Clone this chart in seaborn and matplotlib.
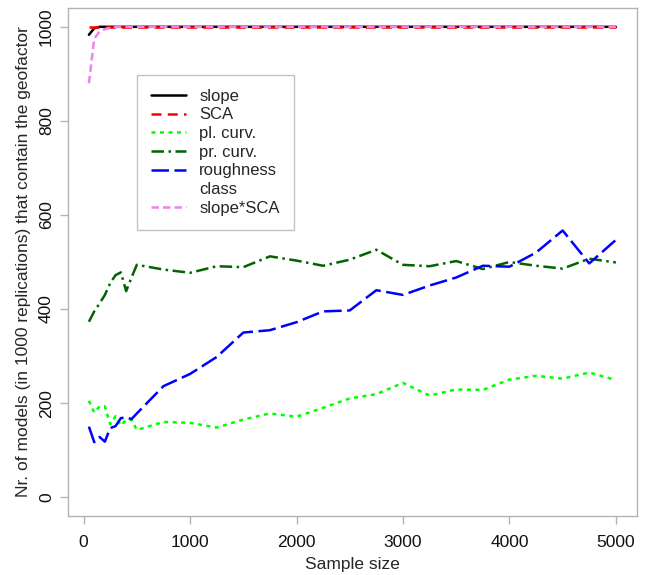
import matplotlib
matplotlib.use("Agg")
import matplotlib.pyplot as plt
import seaborn as sns
import numpy as np
from matplotlib.lines import Line2D

sample_size = [50, 100, 150, 200, 250, 300, 350, 400, 450, 500,
               750, 1000, 1250, 1500, 1750, 2000, 2250, 2500, 2750, 3000,
               3250, 3500, 3750, 4000, 4250, 4500, 4750, 5000]

slope = [983, 997] + [1000] * 26
sca = [1000] * 28
pl_curv = [205, 180, 193, 193, 155, 172, 152, 165, 165, 143,
           160, 158, 148, 165, 178, 171, 190, 210, 219, 243,
           216, 229, 228, 250, 258, 252, 265, 249]
pr_curv = [373, 395, 412, 430, 455, 472, 478, 438, 467, 494,
           484, 477, 491, 489, 512, 503, 492, 505, 526, 494,
           491, 502, 485, 500, 492, 486, 507, 499]
roughness = [150, 117, 128, 118, 147, 151, 168, 170, 166, 178,
             236, 262, 298, 350, 355, 372, 395, 397, 440, 430,
             450, 467, 492, 490, 520, 567, 497, 547]
slope_sca = [880, 975, 990, 995, 998] + [1000] * 23

labels = ["slope", "SCA", "pl. curv.", "pr. curv.", "roughness", "class", "slope*SCA"]

sns.set_style("white")
plt.rcParams["font.family"] = ["Liberation Sans", "DejaVu Sans"]

fig = plt.figure(figsize=(6.46, 5.75), dpi=100)
ax = fig.add_axes([0.105, 1 - 516 / 575, 0.881, (516 - 8) / 575])

lw = 1.8
series = [
    (slope, "black", None),
    (sca, "red", (4, 2.5)),
    (pl_curv, "#00FF00", (1.6, 1.8)),
    (pr_curv, "#006400", (5, 1.8, 1, 1.8)),
    (roughness, "blue", (7, 2.2)),
    (slope_sca, "violet", (3, 1.6)),
]
handles = []
for vals, col, dash in series:
    sns.lineplot(x=sample_size, y=vals, color=col, lw=lw, ax=ax)
    ln = ax.lines[-1]
    if dash is not None:
        ln.set_dashes(dash)
    h = Line2D([], [], color=col, lw=lw)
    if dash is not None:
        h.set_dashes(dash)
    handles.append(h)

handles.insert(5, Line2D([], [], color="none", lw=0))

ax.set_xlim(-148, 5198)
ax.set_ylim(-40, 1040)
ax.set_xticks([0, 1000, 2000, 3000, 4000, 5000])
ax.set_yticks([0, 200, 400, 600, 800, 1000])
for s in ax.spines.values():
    s.set_color("#b3b3b3")
    s.set_linewidth(1.0)
ax.tick_params(axis="both", which="major", direction="out", length=6,
               width=1.0, color="#b3b3b3", labelsize=12.5, labelcolor="#111111",
               bottom=True, left=True)
ax.tick_params(axis="x", pad=8)
ax.tick_params(axis="y", pad=4)
for t in ax.get_yticklabels():
    t.set_rotation(90)
    t.set_va("center")
ax.set_xlabel("Sample size", fontsize=12.5, labelpad=5)
ax.set_ylabel("Nr. of models (in 1000 replications) that contain the geofactor",
              fontsize=12.5, labelpad=6)

leg = ax.legend(handles, labels, loc="upper left", bbox_to_anchor=(0.121, 0.869),
                borderaxespad=0, fontsize=12, frameon=True, fancybox=False,
                edgecolor="#b3b3b3", handlelength=2.1, handletextpad=0.8,
                labelspacing=0.22, borderpad=0.85)
leg.get_frame().set_linewidth(1.0)

fig.savefig("out.png", dpi=100)
